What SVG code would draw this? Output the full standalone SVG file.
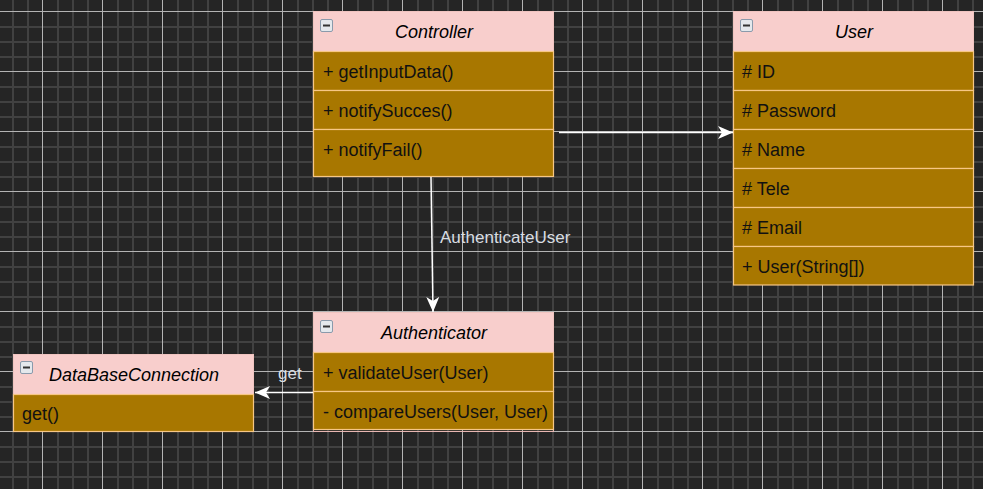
<svg xmlns="http://www.w3.org/2000/svg" width="983" height="489" viewBox="0 0 983 489">
<defs>
<pattern id="grid" x="42" y="11" width="60" height="60" patternUnits="userSpaceOnUse">
<rect x="0" y="0" width="60" height="60" fill="#252525"/>
<rect x="15" y="0" width="2" height="60" fill="#414141"/>
<rect x="30" y="0" width="2" height="60" fill="#414141"/>
<rect x="45" y="0" width="2" height="60" fill="#414141"/>
<rect x="0" y="15" width="60" height="2" fill="#414141"/>
<rect x="0" y="30" width="60" height="2" fill="#414141"/>
<rect x="0" y="45" width="60" height="2" fill="#414141"/>
<rect x="0" y="0" width="1" height="60" fill="#b4b4b4"/>
<rect x="0" y="0" width="60" height="1" fill="#b4b4b4"/>
</pattern>
<marker id="arr" viewBox="0 0 15 13" refX="15" refY="6.5" markerWidth="15" markerHeight="13" markerUnits="userSpaceOnUse" orient="auto">
<path d="M0,0 L15,6.5 L0,13 L4,6.5 Z" fill="#ffffff"/>
</marker>
<g id="icon">
<rect x="0.5" y="0.5" width="12" height="12" rx="1.5" fill="#e4e8ec" stroke="#8a9aab"/>
<rect x="3" y="5.5" width="7" height="2" fill="#333"/>
</g>
</defs>
<style>
.box{fill:none;stroke:#e8b6b2;stroke-width:1}
.hdr{fill:#f8cecc;stroke:#f0c4c0;stroke-width:1}
.row{fill:#a87700;stroke:#f7c785;stroke-width:1.2}
.title{font-family:"Liberation Sans",Arial,sans-serif;font-size:18px;font-style:italic;fill:#000;text-anchor:middle}
.txt{font-family:"Liberation Sans",Arial,sans-serif;font-size:18px;fill:#111}
.lbl{font-family:"Liberation Sans",Arial,sans-serif;font-size:17px;fill:#d8dde2}
.edge{fill:none;stroke:#ffffff;stroke-width:1.5}
</style>
<rect x="0" y="0" width="983" height="489" fill="url(#grid)"/>

<g id="Controller">
<rect class="hdr" x="313.5" y="11.5" width="240" height="40"/>
<rect class="row" x="313.5" y="51.5" width="240" height="39"/>
<rect class="row" x="313.5" y="90.5" width="240" height="39"/>
<rect class="row" x="313.5" y="129.5" width="240" height="47"/>
<use href="#icon" x="320" y="19"/>
<text class="title" x="434" y="38">Controller</text>
<text class="txt" x="323" y="78">+ getInputData()</text>
<text class="txt" x="323" y="117">+ notifySucces()</text>
<text class="txt" x="323" y="156">+ notifyFail()</text>
</g>

<g id="User">
<rect class="hdr" x="733.5" y="11.5" width="240" height="40"/>
<rect class="row" x="733.5" y="51.5" width="240" height="39"/>
<rect class="row" x="733.5" y="90.5" width="240" height="39"/>
<rect class="row" x="733.5" y="129.5" width="240" height="39"/>
<rect class="row" x="733.5" y="168.5" width="240" height="39"/>
<rect class="row" x="733.5" y="207.5" width="240" height="39"/>
<rect class="row" x="733.5" y="246.5" width="240" height="38.5"/>
<use href="#icon" x="740" y="19"/>
<text class="title" x="854" y="38">User</text>
<text class="txt" x="742" y="78"># ID</text>
<text class="txt" x="742" y="117"># Password</text>
<text class="txt" x="742" y="156"># Name</text>
<text class="txt" x="742" y="195"># Tele</text>
<text class="txt" x="742" y="234"># Email</text>
<text class="txt" x="742" y="273">+ User(String[])</text>
</g>

<g id="Authenticator">
<rect class="box" x="313.5" y="312.5" width="240" height="119"/>
<rect class="hdr" x="313.5" y="312.5" width="240" height="40"/>
<rect class="row" x="313.5" y="352.5" width="240" height="39"/>
<rect class="row" x="313.5" y="391.5" width="240" height="38"/>
<use href="#icon" x="320" y="320"/>
<text class="title" x="434" y="339">Authenticator</text>
<text class="txt" x="323" y="379">+ validateUser(User)</text>
<text class="txt" x="323" y="418">- compareUsers(User, User)</text>
</g>

<g id="DataBaseConnection">
<rect class="hdr" x="13.5" y="354.5" width="240" height="40"/>
<rect class="row" x="13.5" y="394.5" width="240" height="37"/>
<use href="#icon" x="20" y="361"/>
<text class="title" x="134" y="381">DataBaseConnection</text>
<text class="txt" x="22" y="420">get()</text>
</g>

<g id="connectors">
<path class="edge" d="M559,132.5 L733,132.5" marker-end="url(#arr)"/>
<path class="edge" d="M431,177 L433,312" marker-end="url(#arr)"/>
<path class="edge" d="M313,392.5 L255,392.5" marker-end="url(#arr)"/>
<text class="lbl" x="440" y="243">AuthenticateUser</text>
<text class="lbl" x="278" y="379">get</text>
</g>
</svg>
